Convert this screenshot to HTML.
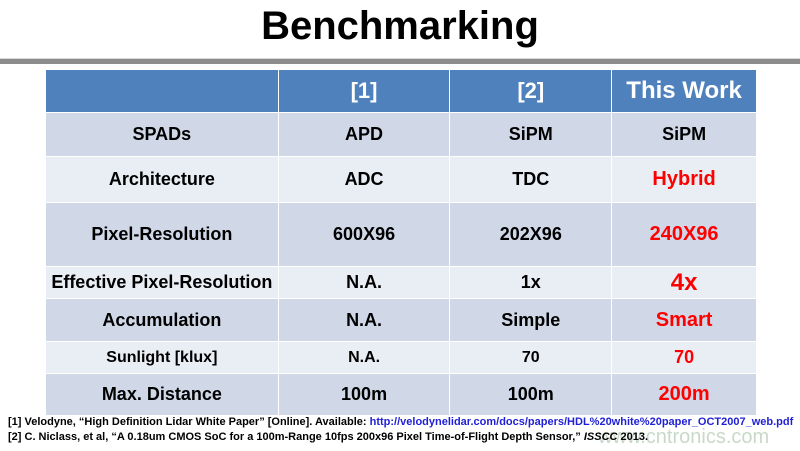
<!DOCTYPE html>
<html><head><meta charset="utf-8"><style>
body{margin:0;width:800px;height:451px;background:#fff;position:relative;overflow:hidden;font-family:"Liberation Sans",Arial,sans-serif}
.title{position:absolute;left:0;width:800px;top:4px;text-align:center;font-size:40px;font-weight:bold;color:#000}
.bar{position:absolute;left:0;width:800px;top:58px;height:5px;background:#8c8c8c;border-top:1px solid #d8d8d8}
table{position:absolute;left:45px;top:69px;border-collapse:collapse;width:712px}
td{border:1px solid #fff;text-align:center;font-weight:bold;font-size:18px;color:#000;padding:0}
tr.h td{background:#4f81bd;color:#fff;font-size:22px;height:42px}
tr.d td{background:#d0d8e8}
tr.l td{background:#e9edf4}
.r{color:#f00}
.fn{position:absolute;left:8px;font-size:11px;font-weight:bold;white-space:nowrap;color:#000;transform-origin:0 0}
.fn a{color:#1f1fd6}
.wm{position:absolute;left:598px;top:426px;font-size:20px;color:#c9d9c9}
</style></head><body>
<div class="title">Benchmarking</div>
<div class="bar"></div>
<table>
<colgroup><col style="width:233px"><col style="width:172px"><col style="width:162px"><col style="width:145px"></colgroup>
<tr class="h"><td></td><td>[1]</td><td>[2]</td><td style="font-size:24px">This Work</td></tr>
<tr class="d" style="height:44px"><td>SPADs</td><td>APD</td><td>SiPM</td><td>SiPM</td></tr>
<tr class="l" style="height:46px"><td>Architecture</td><td>ADC</td><td>TDC</td><td class="r" style="font-size:20px">Hybrid</td></tr>
<tr class="d" style="height:64px"><td>Pixel-Resolution</td><td>600X96</td><td>202X96</td><td class="r" style="font-size:20px">240X96</td></tr>
<tr class="l" style="height:32px"><td>Effective Pixel-Resolution</td><td>N.A.</td><td>1x</td><td class="r" style="font-size:24px">4x</td></tr>
<tr class="d" style="height:43px"><td>Accumulation</td><td>N.A.</td><td>Simple</td><td class="r" style="font-size:20px">Smart</td></tr>
<tr class="l" style="height:32px"><td style="font-size:16px">Sunlight [klux]</td><td style="font-size:16px">N.A.</td><td style="font-size:16px">70</td><td class="r">70</td></tr>
<tr class="d" style="height:42px"><td>Max. Distance</td><td>100m</td><td>100m</td><td class="r" style="font-size:20px">200m</td></tr>
</table>
<div class="wm">www.cntronics.com</div>
<div class="fn" style="top:416px">[1] Velodyne, “High Definition Lidar White Paper” [Online]. Available: <a>http://velodynelidar.com/docs/papers/HDL%20white%20paper_OCT2007_web.pdf</a></div>
<div class="fn" style="top:431px">[2] C. Niclass, et al, “A 0.18um CMOS SoC for a 100m-Range 10fps 200x96 Pixel Time-of-Flight Depth Sensor,” <i>ISSCC</i> 2013.</div>
</body></html>
